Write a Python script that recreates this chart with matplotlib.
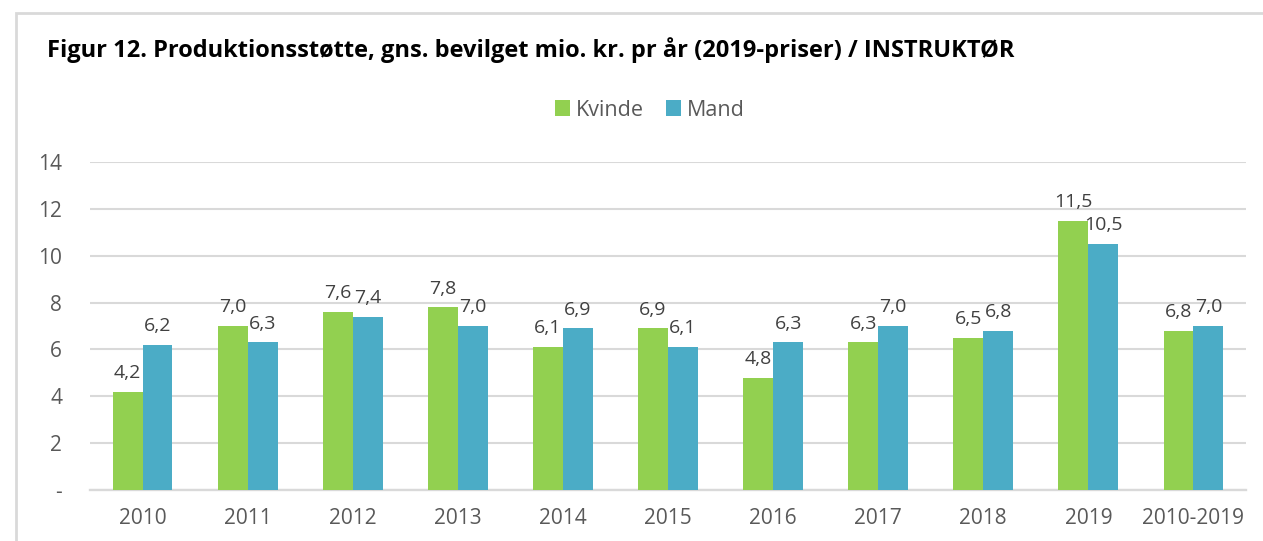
import matplotlib
matplotlib.use("Agg")
import matplotlib.pyplot as plt
import numpy as np
from matplotlib.patches import Rectangle
from matplotlib.ticker import FuncFormatter

categories = ["2010", "2011", "2012", "2013", "2014", "2015", "2016",
              "2017", "2018", "2019", "2010-2019"]
kvinde = [4.2, 7.0, 7.6, 7.8, 6.1, 6.9, 4.8, 6.3, 6.5, 11.5, 6.8]
mand = [6.2, 6.3, 7.4, 7.0, 6.9, 6.1, 6.3, 7.0, 6.8, 10.5, 7.0]

GREEN = "#92D050"
BLUE = "#4BACC6"
GRID = "#D9D9D9"
TXT = "#595959"

plt.rcParams['font.family'] = ['Open Sans', 'DejaVu Sans']

fig = plt.figure(figsize=(12.63, 5.41), dpi=100)
ax = fig.add_axes([90 / 1263, 1 - 490 / 541, 1156 / 1263, 328 / 541])

x = np.arange(len(categories))
w = 0.285
b1 = ax.bar(x - w / 2, kvinde, w, color=GREEN, label="Kvinde", zorder=3)
b2 = ax.bar(x + w / 2, mand, w, color=BLUE, label="Mand", zorder=3)

for bars, vals in ((b1, kvinde), (b2, mand)):
    for r, v in zip(bars, vals):
        ax.annotate(f"{v:.1f}".replace(".", ","),
                    (r.get_x() + r.get_width() / 2, v),
                    xytext=(0, 7), textcoords="offset points",
                    ha="center", va="bottom", fontsize=14, color="#404040")

ax.set_xlim(-0.5, len(categories) - 0.5)
ax.set_ylim(0, 14)
ax.set_yticks(range(0, 15, 2))
ax.yaxis.set_major_formatter(FuncFormatter(lambda v, p: "-" if v == 0 else f"{v:.0f}"))
ax.set_xticks(x)
ax.set_xticklabels(categories)
ax.tick_params(axis="both", length=0, labelsize=15, colors=TXT)
ax.tick_params(axis="y", pad=20)
ax.tick_params(axis="x", pad=13)
ax.grid(axis="y", color=GRID, linewidth=1.5, zorder=0)
for s in ["top", "right", "left"]:
    ax.spines[s].set_visible(False)
ax.spines["bottom"].set_color(GRID)
ax.spines["bottom"].set_linewidth(1.7)

fig.text(47 / 1263, 1 - 50 / 541,
         "Figur 12. Produktionsstøtte, gns. bevilget mio. kr. pr år (2019-priser) / INSTRUKTØR",
         fontsize=17, fontweight="bold", color="black", va="center", ha="left")

fig.legend(handles=[b1, b2], loc="center", bbox_to_anchor=(650 / 1263, 1 - 110 / 541),
           ncol=2, frameon=False, fontsize=15.5, labelcolor=TXT,
           handlelength=0.7, handleheight=0.7, handletextpad=0.3, columnspacing=1.0)

fig.patches.append(Rectangle((16 / 1263, -0.1), 1.2, 1.1 - 13 / 541,
                             transform=fig.transFigure, fill=False,
                             edgecolor=GRID, linewidth=2))

fig.savefig("out.png", dpi=100, facecolor="white")
